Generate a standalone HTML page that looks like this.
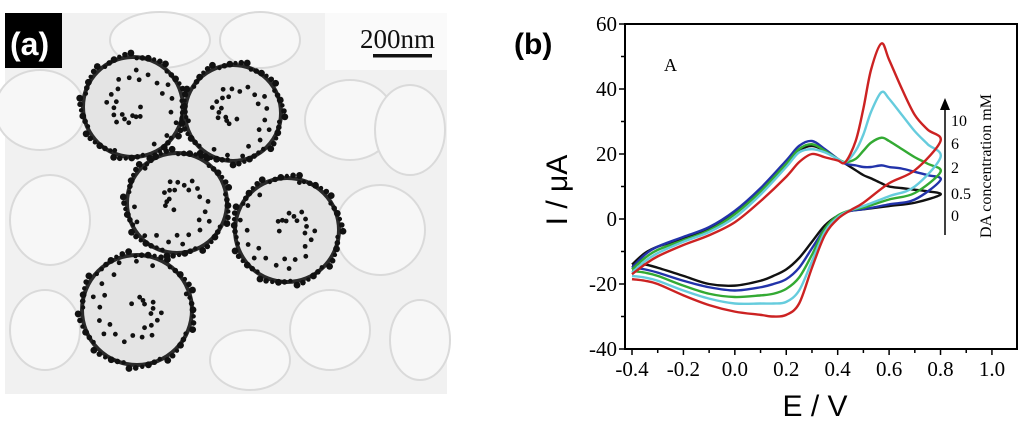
<!DOCTYPE html>
<html><head><meta charset="utf-8"><style>
body{margin:0;background:#fff;width:1024px;height:422px;overflow:hidden;position:relative;font-family:"Liberation Sans",sans-serif}
svg{position:absolute;left:0;top:0}
</style></head><body>
<svg id="s" width="1024" height="422">
<g id="tem">
<rect x="5" y="13" width="442" height="381" fill="#f1f1f1"/>
<g fill="#f7f7f7" stroke="#dadada" stroke-width="2">
<ellipse cx="40" cy="110" rx="45" ry="40"/><ellipse cx="50" cy="220" rx="40" ry="45"/><ellipse cx="45" cy="330" rx="35" ry="40"/>
<ellipse cx="350" cy="120" rx="45" ry="40"/><ellipse cx="410" cy="130" rx="35" ry="45"/><ellipse cx="380" cy="230" rx="45" ry="45"/>
<ellipse cx="330" cy="330" rx="40" ry="40"/><ellipse cx="250" cy="360" rx="40" ry="30"/><ellipse cx="420" cy="340" rx="30" ry="40"/>
<ellipse cx="160" cy="40" rx="50" ry="28"/><ellipse cx="260" cy="40" rx="40" ry="28"/>
</g>
<rect x="325" y="13" width="122" height="57" fill="#fafafa"/>
<text x="360" y="48" font-family="Liberation Serif,serif" font-size="27" fill="#111">200nm</text>
<rect x="373" y="54" width="59" height="3.5" fill="#111"/>
<rect x="5" y="13" width="57" height="55" fill="#000"/>
<text x="10" y="55" font-size="32" font-weight="bold" fill="#fff">(a)</text>
<g id="cells"></g>
</g>
<g id="chart"></g>
</svg>
<script>
const NS="http://www.w3.org/2000/svg";
const xUpper=[-0.4,-0.35,-0.3,-0.2,-0.1,0,0.1,0.2,0.25,0.3,0.35,0.4,0.43,0.47,0.5,0.53,0.57,0.6,0.65,0.7,0.75,0.8];
const xLower=[0.8,0.7,0.6,0.5,0.45,0.4,0.35,0.3,0.25,0.2,0.15,0.1,0,-0.1,-0.2,-0.3,-0.35,-0.4];
const seriesNames=["0 mM","0.5 mM","2 mM","6 mM","10 mM"];
const seriesColors=["#111111","#2233aa","#33aa33","#66ccdd","#cc2222"];
const up0=[-14,-10.5,-8.5,-6,-3,2,9,16.5,21,22.5,21,18.5,17,15,13.5,12.5,11,10,9.5,9,8.5,7.5];
const up05=[-15,-11,-8.5,-5.5,-2.5,2.5,9.5,18,22.5,24,21.5,18.5,17,16.5,16,16,16.5,16,15.5,14.5,13.5,12];
const up2=[-15.5,-12,-9.5,-6.5,-3.5,1.5,8.5,17,21.5,23,21,18.5,17.5,18.5,21,23.5,25,24,21.5,19,17,14.5];
const up6=[-16.5,-13,-10.5,-7,-4,0.5,7.5,16,20.5,21.5,20.5,18.5,17.5,21,26,33,39,37,32,27,23,19];
const up10=[-17,-14,-11.5,-8,-5,-1,5.5,13,17.5,20,19,18,17.5,24,34,46,54,49,40,32,27.5,24];
const lo0=[7.5,5,4,3,2.5,1,-2,-7,-12,-15.5,-17.5,-19,-20.5,-20,-17.5,-15,-14,-14];
const lo05=[11.5,6,4.5,3,2.5,1,-3,-9,-15,-18.5,-20,-21,-22,-21,-19,-16.5,-15.5,-15];
const lo2=[14.5,8,6,3.5,2.7,1,-3,-11,-18,-21.5,-23,-23.5,-24,-23,-20.5,-17.5,-16.5,-16];
const lo6=[19,10,7,4,2.7,0.5,-4,-13,-22,-25.5,-26,-26,-26,-24.5,-22,-19,-18,-17.5];
const lo10=[24,15,11,5,2.7,0,-5,-15,-26,-29.5,-30,-29.5,-28.5,-26.5,-23.5,-20,-19,-18.5];
const xTicks=["-0.4","-0.2","0.0","0.2","0.4","0.6","0.8","1.0"];
const yTicks=["-40","-20","0","20","40","60"];
const uppers=[up0,up05,up2,up6,up10], lowers=[lo0,lo05,lo2,lo6,lo10];

const X=v=>632+(v+0.4)*257.1, Y=v=>219-v*3.25;
const g=document.getElementById('chart');
function el(t,a,p){const e=document.createElementNS(NS,t);for(const k in a)e.setAttribute(k,a[k]);(p||g).appendChild(e);return e;}
function smooth(pts){let d="M"+pts[0][0]+","+pts[0][1];for(let i=0;i<pts.length-1;i++){const p0=pts[Math.max(0,i-1)],p1=pts[i],p2=pts[i+1],p3=pts[Math.min(pts.length-1,i+2)];d+=" C"+(p1[0]+(p2[0]-p0[0])/6)+","+(p1[1]+(p2[1]-p0[1])/6)+" "+(p2[0]-(p3[0]-p1[0])/6)+","+(p2[1]-(p3[1]-p1[1])/6)+" "+p2[0]+","+p2[1];}return d;}
const fr=el('rect',{x:625,y:24,width:392,height:325,fill:'none',stroke:'#000','stroke-width':2});


yTicks.forEach((t,i)=>{const v=+t,y=Y(v);
 el('line',{x1:619,x2:625,y1:y,y2:y,stroke:'#000','stroke-width':1.5});
 if(v<60) el('line',{x1:621,x2:625,y1:Y(v+10),y2:Y(v+10),stroke:'#000','stroke-width':1.5});
 const tx=el('text',{x:617,y:y+7,'text-anchor':'end','font-family':'Liberation Serif,serif','font-size':21});
 tx.textContent=t;
 
 });
xTicks.forEach((t,i)=>{const v=+t,x=X(v);
 el('line',{x1:x,x2:x,y1:349,y2:355,stroke:'#000','stroke-width':1.5});
 if(v<1) el('line',{x1:X(v+0.1),x2:X(v+0.1),y1:349,y2:353,stroke:'#000','stroke-width':1.5});
 const tx=el('text',{x:x,y:376,'text-anchor':'middle','font-family':'Liberation Serif,serif','font-size':21});
 tx.textContent=t;
 
 });
uppers.forEach((u,k)=>{const pts=xUpper.map((x,i)=>[X(x),Y(u[i])]).concat(xLower.slice(1).map((x,i)=>[X(x),Y(lowers[k][i+1])]));
 const p=el('path',{d:smooth(pts),fill:'none',stroke:seriesColors[k],'stroke-width':2.4,'stroke-linejoin':'round'});
 
 });
function txt(s,a,name){const t=el('text',a);t.textContent=s;return t;}
txt("(b)",{x:514,y:54,'font-size':30,'font-weight':'bold'},'panel-b-label');
txt("A",{x:664,y:71,'font-family':'Liberation Serif,serif','font-size':18},'curve-set-label');
txt("E / V",{x:815,y:416,'text-anchor':'middle','font-size':30},'x-axis-title');
txt("I / μA",{x:0,y:0,'text-anchor':'middle','font-size':30,transform:'translate(567,190) rotate(-90)'},'y-axis-title');
el('line',{x1:945,y1:235,x2:945,y2:108,stroke:'#000','stroke-width':1.5});
el('path',{d:'M940,110 L945,98 L950,110 Z',fill:'#000'});
[["10",126],["6",149],["2",173],["0.5",199],["0",221]].forEach(a=>txt(a[0],{x:951,y:a[1],'font-family':'Liberation Serif,serif','font-size':16},'legend-entry'));
txt("DA concentration mM",{x:0,y:0,'text-anchor':'middle','font-family':'Liberation Serif,serif','font-size':16,transform:'translate(991,166) rotate(-90)'},'legend-title');
const cg=document.getElementById('cells');
const cells=[[133,107,50],[233,113,48],[177,203,50],[287,230,52],[137,310,55]];
cells.forEach((c,k)=>{
 const e=el('circle',{cx:c[0],cy:c[1],r:c[2],fill:'#e4e4e4',stroke:'#2a2a2a','stroke-width':4},cg);
 
 
 for(let i=0;i<55;i++){const a=i*0.114+k;const rr=c[2]+((i*7)%6)-1;
  el('circle',{cx:c[0]+rr*Math.cos(a),cy:c[1]+rr*Math.sin(a),r:2.2+(i%3)*0.6,fill:'#111'},cg);}
 for(let i=0;i<28;i++){const a=i*2.4+k,rr=c[2]*(0.15+0.8*((i*37)%100)/100);
  el('circle',{cx:c[0]+rr*Math.cos(a),cy:c[1]+rr*Math.sin(a),r:2.4,fill:'#111'},cg);}
});
</script>
</body></html>
